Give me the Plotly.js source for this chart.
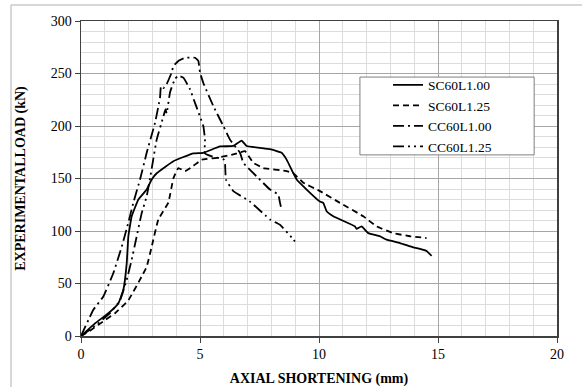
<!DOCTYPE html>
<html>
<head>
<meta charset="utf-8">
<script src="https://cdn.plot.ly/plotly-3.0.1.min.js"></script>
<style>html,body{margin:0;padding:0;background:#fff;}#chart{width:582px;height:387px;}</style>
</head>
<body>
<div id="chart"></div>
<script>
const seriesNames = ['SC60L1.00', 'SC60L1.25', 'CC60L1.00', 'CC60L1.25'];

const sc100_x = [0, 0.59, 1.15, 1.57, 1.78, 1.92, 1.99, 2.13, 2.41, 2.76, 2.97, 3.18, 3.88, 4.72, 5.14, 5.84, 6.4, 6.75, 6.96, 7.94, 8.43, 8.64, 8.92, 9.06, 9.48, 10.04, 10.18, 10.32, 10.6, 11.51, 11.58, 11.79, 12.07, 12.56, 12.84, 13.4, 13.96, 14.24, 14.52, 14.73];
const sc100_y = [0, 12, 21.7, 31, 44, 69, 95, 114, 130, 139.5, 149, 155, 166.5, 174, 174.5, 180.5, 181, 186, 181, 178, 174.5, 168, 155, 149, 139.5, 128, 126.8, 118.8, 114, 104.4, 102, 104.4, 98, 95, 91.7, 88.5, 84.4, 83, 81, 76.4];

const sc125_x = [0, 0.31, 0.94, 1.43, 1.99, 2.55, 2.76, 2.97, 3.25, 3.67, 3.88, 4.09, 4.37, 4.72, 5.07, 5.7, 6.4, 6.89, 7.24, 7.66, 8.64, 8.92, 9.34, 10.04, 10.88, 11.86, 12.42, 13.12, 13.82, 14.52];
const sc125_y = [0, 4, 14, 21.7, 34, 56.7, 66, 85, 111, 127, 150, 160, 157, 162, 168, 169.7, 173, 176, 165, 160, 157, 155, 146, 138, 126.8, 114, 104.4, 98, 95, 93.3];

const cc100_x = [0, 0.52, 0.94, 1.36, 1.71, 1.99, 2.2, 2.48, 2.76, 3.11, 3.32, 3.36, 3.46, 3.6, 3.81, 3.88, 4.09, 4.37, 4.79, 4.93, 5.0, 5.14, 5.56, 5.98, 6.26, 6.68, 6.82, 7.38, 7.94, 8.29, 8.36, 8.43];
const cc100_y = [0, 25, 37.6, 60, 85, 108, 127, 149, 174.5, 203, 227, 238, 236, 240, 251, 257, 262, 265, 265, 262, 251, 241, 219, 200, 187, 174.5, 165, 152, 139.5, 134.7, 127, 120];

const cc125_x = [0, 0.5, 1.22, 1.64, 1.92, 2.13, 2.31, 2.55, 2.76, 2.9, 3.18, 3.46, 3.55, 3.6, 3.74, 3.95, 4.09, 4.3, 4.58, 4.79, 5.0, 5.14, 5.21, 5.2, 5.5, 6.0, 6.05, 6.09, 6.4, 7.1, 7.94, 8.36, 8.92, 8.99];
const cc125_y = [0, 8, 21.7, 34, 53.5, 72.6, 91.7, 117, 133, 150, 187, 209, 216, 212, 232, 245, 248, 246, 235, 222, 209, 200, 187, 174, 171, 168, 165, 149, 138, 128, 111, 106, 92, 90];

const xTicks = [0, 5, 10, 15, 20];
const yTicks = [0, 50, 100, 150, 200, 250, 300];

const serif = '"Liberation Serif", "Times New Roman", serif';
const dashes = ['solid', '6px,4px', '11px,4px,2px,4px', '11px,4px,2px,4px,2px,4px'];
const xs = [sc100_x, sc125_x, cc100_x, cc125_x];
const ys = [sc100_y, sc125_y, cc100_y, cc125_y];

const traces = seriesNames.map((n, i) => ({
  x: xs[i], y: ys[i], name: n, type: 'scatter', mode: 'lines',
  line: {color: '#000', width: 1.8, dash: dashes[i], shape: 'spline', smoothing: 0.3}
}));

const layout = {
  width: 582, height: 387,
  margin: {l: 81, r: 25, t: 21, b: 51},
  paper_bgcolor: '#fff', plot_bgcolor: '#fff',
  showlegend: true,
  legend: {
    x: 0.645, y: 0.846, xanchor: 'left', yanchor: 'top',
    bgcolor: 'rgba(0,0,0,0)', borderwidth: 0,
    font: {family: serif, size: 13.5, color: '#000'},
    tracegroupgap: 0, itemwidth: 30
  },
  xaxis: {
    range: [0, 20], tickvals: xTicks, ticktext: xTicks.map(String),
    showgrid: true, gridcolor: '#a6a6a6', gridwidth: 1,
    minor: {dtick: 1, tick0: 0, showgrid: true, gridcolor: '#dcdcdc', gridwidth: 1},
    showline: true, linecolor: '#404040', linewidth: 1.5, mirror: true,
    ticks: 'outside', ticklen: 5, tickcolor: '#404040',
    zeroline: false,
    tickfont: {family: serif, size: 14, color: '#000'},
    title: {text: '<b>AXIAL SHORTENING (mm)</b>', font: {family: serif, size: 14, color: '#000'}, standoff: 12}
  },
  yaxis: {
    range: [0, 300], tickvals: yTicks, ticktext: yTicks.map(String),
    showgrid: true, gridcolor: '#a6a6a6', gridwidth: 1,
    minor: {dtick: 10, tick0: 0, showgrid: true, gridcolor: '#dcdcdc', gridwidth: 1},
    showline: true, linecolor: '#404040', linewidth: 1.5, mirror: true,
    ticks: 'outside', ticklen: 5, tickcolor: '#404040',
    zeroline: false,
    tickfont: {family: serif, size: 14, color: '#000'},
    title: {text: '<b>EXPERIMENTALLOAD (kN)</b>', font: {family: serif, size: 14, color: '#000'}, standoff: 22}
  },
  shapes: [
    {type: 'line', xref: 'paper', yref: 'paper', x0: -0.147, x1: 1.06, y0: 1.0508, y1: 1.0508, line: {color: '#b0b0b0', width: 1}},
    {type: 'line', xref: 'paper', yref: 'paper', x0: -0.147, x1: -0.147, y0: 1.0508, y1: -0.17, line: {color: '#b0b0b0', width: 1}},
    {type: 'rect', xref: 'paper', yref: 'paper', x0: 0.586, x1: 0.952, y0: 0.575, y1: 0.822, layer: 'above', fillcolor: '#fff', line: {color: '#7f7f7f', width: 1}}
  ]
};

Plotly.newPlot('chart', traces, layout, {displayModeBar: false, staticPlot: true});
</script>
</body>
</html>
